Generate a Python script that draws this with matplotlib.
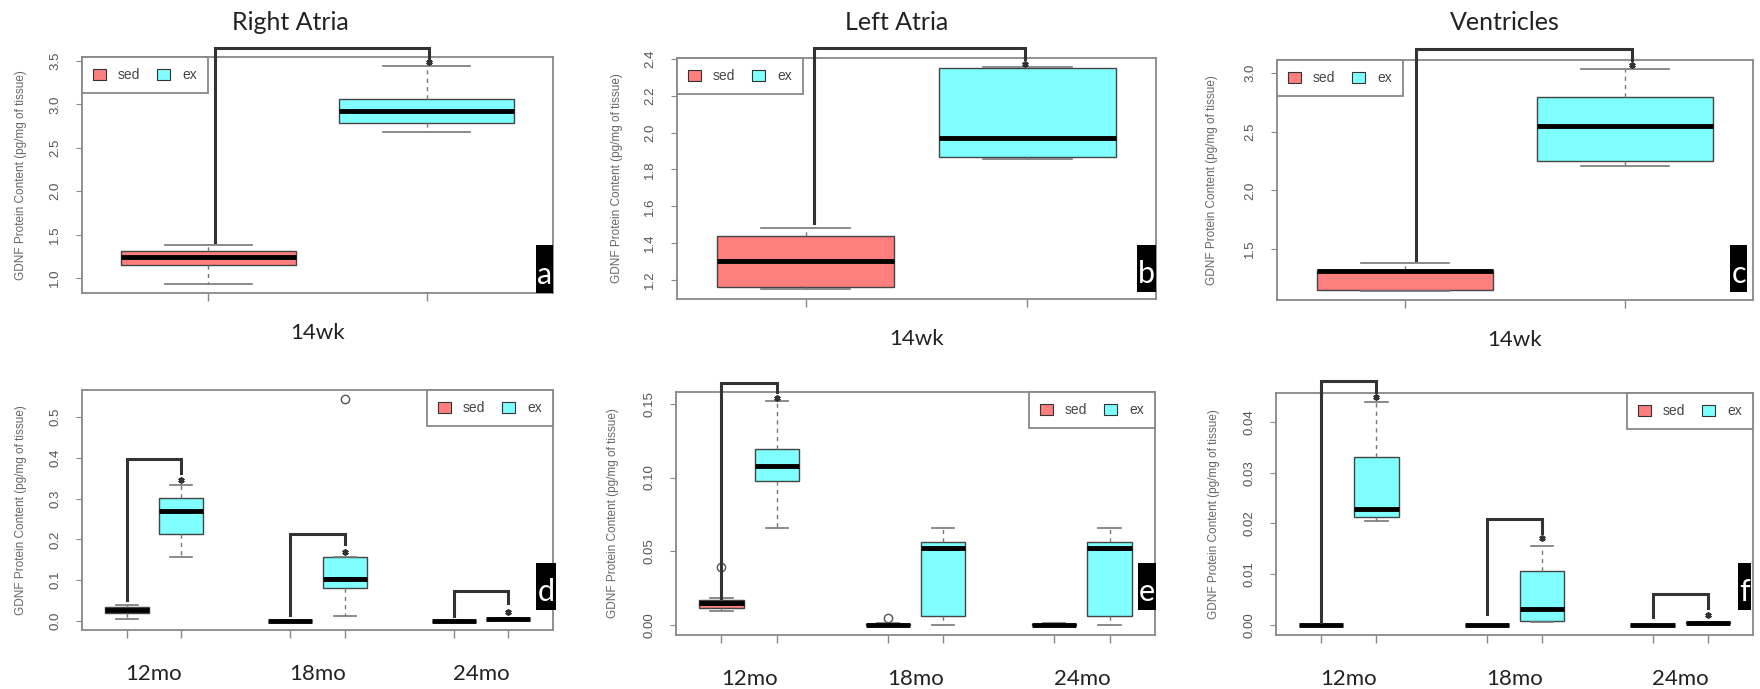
import matplotlib
matplotlib.use("Agg")
from matplotlib import pyplot as plt
from matplotlib.patches import Patch, Rectangle
from matplotlib.ticker import FormatStrFormatter

W, H = 1760, 689

SED = "#FF7F7F"
EX = "#7FFFFF"
GRIS = "#888888"
YLABEL = "GDNF Protein Content (pg/mg of tissue)"

TITRES = ["Right Atria", "Left Atria", "Ventricles"]
LETTRES = ["a", "b", "c", "d", "e", "f"]
GROUPES_14 = ["14wk"]
GROUPES_AGE = ["12mo", "18mo", "24mo"]

# boites : (min, q1, mediane, q3, max)
ra14Sed = [0.925, 1.150, 1.242, 1.311, 1.380]
ra14Ex = [2.682, 2.786, 2.924, 3.062, 3.448]
la14Sed = [1.150, 1.162, 1.303, 1.438, 1.481]
la14Ex = [1.859, 1.870, 1.973, 2.351, 2.356]
ve14Sed = [1.143, 1.151, 1.310, 1.325, 1.381]
ve14Ex = [2.210, 2.251, 2.549, 2.796, 3.034]

raAgeSed = [[0.005, 0.020, 0.028, 0.034, 0.040],
            [0.0, 0.0, 0.0, 0.001, 0.002],
            [0.0, 0.0, 0.0, 0.001, 0.002]]
raAgeEx = [[0.157, 0.213, 0.270, 0.301, 0.333],
           [0.012, 0.081, 0.103, 0.157, 0.157],
           [0.003, 0.004, 0.005, 0.006, 0.007]]
laAgeSed = [[0.0095, 0.0115, 0.015, 0.017, 0.018],
            [0.0, 0.0, 0.0, 0.0005, 0.001],
            [0.0, 0.0, 0.0, 0.0005, 0.001]]
laAgeEx = [[0.066, 0.0978, 0.108, 0.1195, 0.152],
           [0.0, 0.006, 0.052, 0.0565, 0.066],
           [0.0, 0.006, 0.052, 0.0565, 0.066]]
veAgeSed = [[0.0, 0.0, 0.0, 0.0, 0.0],
            [0.0, 0.0, 0.0, 0.0, 0.0],
            [0.0, 0.0, 0.0, 0.0, 0.0]]
veAgeEx = [[0.0205, 0.0212, 0.0228, 0.033, 0.0439],
           [0.0005, 0.0008, 0.0031, 0.0106, 0.0155],
           [0.0003, 0.0003, 0.0004, 0.0005, 0.0006]]

# valeurs isolees : (position, valeur)
raAgeOutliers = [(5, 0.544)]
laAgeOutliers = [(1, 0.039), (4, 0.005)]

# crochets de significativite : (x gauche, x droite, bas gauche, haut, bas droit, etoile)
ra14Crochets = [(1.03, 2.01, 1.415, 3.65, 3.535, 3.49)]
la14Crochets = [(1.04, 1.99, 1.508, 2.46, 2.40, 2.37)]
ve14Crochets = [(1.05, 2.03, 1.41, 3.20, 3.11, 3.07)]
raAgeCrochets = [(1, 2, 0.051, 0.397, 0.363, 0.346),
                 (4, 5, 0.015, 0.213, 0.189, 0.169),
                 (7, 8, 0.012, 0.074, 0.044, 0.022)]
laAgeCrochets = [(1, 2, 0.018, 0.164, 0.158, 0.154)]
veAgeCrochets = [(1, 2, 0.0006, 0.048, 0.0458, 0.0449),
                 (4, 5, 0.0022, 0.0209, 0.0181, 0.0171),
                 (7, 8, 0.0016, 0.0061, 0.0033, 0.0020)]

# axes en pixels : gauche, haut, droite, bas
CADRES = [(82, 57, 553, 293), (677, 58, 1156, 299), (1277, 60, 1753, 300),
          (82, 390, 553, 630), (676, 392, 1155, 635), (1276, 393, 1753, 635)]
YLIMS = [(0.827, 3.546), (1.097, 2.405), (1.066, 3.11),
         (-0.022, 0.566), (-0.0068, 0.158), (-0.002, 0.0457)]
YTICKS = [[1.0, 1.5, 2.0, 2.5, 3.0, 3.5], [1.2, 1.4, 1.6, 1.8, 2.0, 2.2, 2.4],
          [1.5, 2.0, 2.5, 3.0], [0.0, 0.1, 0.2, 0.3, 0.4, 0.5],
          [0.0, 0.05, 0.10, 0.15], [0.0, 0.01, 0.02, 0.03, 0.04]]
YFORMATS = ["%.1f", "%.1f", "%.1f", "%.1f", "%.2f", "%.2f"]
YLABEL_X = [21, 617, 1212, 21, 613, 1214]
LEGENDE_LOC = ["upper left"] * 3 + ["upper right"] * 3
LETTRE_BOITES = [(536, 245, 553, 293), (1137, 245, 1156, 292), (1730, 245, 1747, 292),
                 (536, 563, 556, 610), (1138, 563, 1156, 610), (1738, 563, 1751, 610)]
TITRE_X = [290, 897, 1505]


def stats(valeurs, fliers=()):
    return dict(whislo=valeurs[0], q1=valeurs[1], med=valeurs[2],
                q3=valeurs[3], whishi=valeurs[4], fliers=list(fliers))


def cadre(fig, l, t, r, b):
    return fig.add_axes([l / W, 1 - b / H, (r - l) / W, (b - t) / H])


def dessineBoites(ax, boites, positions, couleurs):
    bp = ax.bxp(boites, positions=positions, widths=0.8, patch_artist=True,
                showfliers=True, manage_ticks=False,
                boxprops=dict(edgecolor="#444444", linewidth=1.0),
                medianprops=dict(color="black", linewidth=3.5, solid_capstyle="butt"),
                whiskerprops=dict(color="#777777", linewidth=1.0, linestyle=(0, (3, 3))),
                capprops=dict(color="#777777", linewidth=1.2),
                flierprops=dict(marker="o", markerfacecolor="none",
                                markeredgecolor="#555555", markersize=6))
    for patch, c in zip(bp["boxes"], couleurs):
        patch.set_facecolor(c)


def dessineCrochets(ax, crochets):
    for xg, xd, yg, yh, yd, etoile in crochets:
        ax.plot([xg, xg, xd, xd], [yg, yh, yh, yd], color="#333333", lw=2.2,
                clip_on=False, solid_joinstyle="miter", zorder=5)
        ax.plot(xd, etoile, marker=(6, 2, 0), ms=4.5, mew=1.3, color="#333333",
                clip_on=False, zorder=5)


plt.rcParams["font.family"] = ["Liberation Sans", "DejaVu Sans"]
fig = plt.figure(figsize=(W / 100, H / 100), dpi=100)

haut = [(ra14Sed, ra14Ex, ra14Crochets), (la14Sed, la14Ex, la14Crochets),
        (ve14Sed, ve14Ex, ve14Crochets)]
bas = [(raAgeSed, raAgeEx, raAgeOutliers, raAgeCrochets),
       (laAgeSed, laAgeEx, laAgeOutliers, laAgeCrochets),
       (veAgeSed, veAgeEx, [], veAgeCrochets)]

for k in range(6):
    ax = cadre(fig, *CADRES[k])
    if k < 3:
        sed, ex, crochets = haut[k]
        dessineBoites(ax, [stats(sed), stats(ex)], [1, 2], [SED, EX])
        ax.set_xlim(0.42, 2.58)
        ax.set_xticks([1, 2])
        groupes = [(1.5, GROUPES_14[0])]
        decalage = 29
    else:
        sed, ex, outliers, crochets = bas[k - 3]
        boites, positions, couleurs = [], [], []
        for i in range(3):
            for j, serie in enumerate([sed, ex]):
                pos = 3 * i + 1 + j
                fl = [v for p, v in outliers if p == pos]
                boites.append(stats(serie[i], fl))
                positions.append(pos)
                couleurs.append([SED, EX][j])
        dessineBoites(ax, boites, positions, couleurs)
        ax.set_xlim(0.18, 8.82)
        ax.set_xticks(positions)
        groupes = [(3 * i + 1.5, GROUPES_AGE[i]) for i in range(3)]
        decalage = 32
    dessineCrochets(ax, crochets)

    ax.set_ylim(*YLIMS[k])
    ax.set_yticks(YTICKS[k])
    ax.yaxis.set_major_formatter(FormatStrFormatter(YFORMATS[k]))
    ax.set_xticklabels([])
    ax.tick_params(axis="y", labelrotation=90, labelsize=9.5, labelcolor="#555555",
                   color=GRIS, length=4, pad=11)
    ax.tick_params(axis="x", color=GRIS, length=6, width=1)
    for lab in ax.get_yticklabels():
        lab.set_va("center")
    for s in ax.spines.values():
        s.set_color(GRIS)
        s.set_linewidth(1.3)

    for x, nom in groupes:
        ax.annotate(nom, xy=(x, 0), xycoords=("data", "axes fraction"),
                    xytext=(0, -decalage), textcoords="offset points",
                    ha="center", va="center", fontsize=16, family="Lato", color="#222222")

    l, t, r, b = CADRES[k]
    fig.text(YLABEL_X[k] / W, 1 - (t + b) / 2 / H, YLABEL, rotation=90,
             ha="center", va="center", fontsize=8.5, color="#666666")

    handles = [Patch(facecolor=SED, edgecolor="#333333", lw=0.8, label="sed"),
               Patch(facecolor=EX, edgecolor="#333333", lw=0.8, label="ex")]
    leg = ax.legend(handles=handles, loc=LEGENDE_LOC[k], ncol=2, fontsize=10,
                    handlelength=0.9, handleheight=0.9, handletextpad=0.9,
                    columnspacing=1.2, borderaxespad=0, borderpad=0.8,
                    fancybox=False, framealpha=1, edgecolor=GRIS)
    leg.get_frame().set_linewidth(1.3)
    for txt in leg.get_texts():
        txt.set_color("#444444")

    # lettre du panneau sur fond noir
    xl, yt, xr, yb = LETTRE_BOITES[k]
    rect = Rectangle((xl / W, 1 - yb / H), (xr - xl) / W, (yb - yt) / H,
                     transform=fig.transFigure, facecolor="black", edgecolor="none", zorder=10)
    fig.patches.append(rect)
    lettre = fig.text((xl + xr) / 2 / W, 1 - (yb - 9) / H, LETTRES[k], ha="center",
                      va="baseline", fontsize=22, family="Lato", color="white", zorder=11)
    lettre.set_clip_path(rect)

for i, titre in enumerate(TITRES):
    fig.text(TITRE_X[i] / W, 1 - 22 / H, titre, ha="center", va="center",
             fontsize=18, family="Lato", color="#222222")

fig.savefig("out.png", dpi=100)
